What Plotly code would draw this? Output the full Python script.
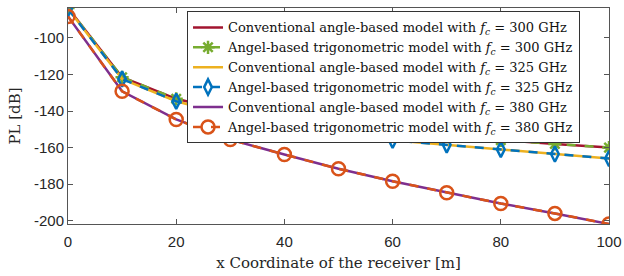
import plotly.graph_objects as go

x_vals = [0, 10, 20, 30, 40, 50, 60, 70, 80, 90, 100]
pl_300 = [-83.6, -121.5, -133.3, -140.5, -146.0, -149.0, -151.5, -153.8, -156.0, -158.0, -160.0]
pl_325 = [-84.0, -122.5, -134.6, -142.5, -149.0, -152.0, -156.0, -158.5, -161.0, -163.5, -166.0]
pl_380 = [-88.2, -129.2, -144.6, -155.6, -163.8, -171.6, -178.4, -184.7, -190.6, -196.0, -201.8]

y_ticks = [-200, -180, -160, -140, -120, -100]
x_ticks = [0, 20, 40, 60, 80, 100]

fc = "<i>f</i><sub><i>c</i></sub>"
names = [
    f"Conventional angle-based model with {fc} = 300 GHz",
    f"Angel-based trigonometric model with {fc} = 300 GHz",
    f"Conventional angle-based model with {fc} = 325 GHz",
    f"Angel-based trigonometric model with {fc} = 325 GHz",
    f"Conventional angle-based model with {fc} = 380 GHz",
    f"Angel-based trigonometric model with {fc} = 380 GHz",
]

fig = go.Figure()
fig.add_trace(go.Scatter(x=x_vals, y=pl_300, mode="lines", name=names[0],
                         line=dict(color="#A2142F", width=2.5)))
fig.add_trace(go.Scatter(x=x_vals, y=pl_300, mode="lines+markers", name=names[1],
                         line=dict(color="#77AC30", width=2.5, dash="dash"),
                         marker=dict(symbol="asterisk-open", size=11,
                                     line=dict(color="#77AC30", width=2.5))))
fig.add_trace(go.Scatter(x=x_vals, y=pl_325, mode="lines", name=names[2],
                         line=dict(color="#EDB120", width=2.5)))
fig.add_trace(go.Scatter(x=x_vals, y=pl_325, mode="lines+markers", name=names[3],
                         line=dict(color="#0072BD", width=2.5, dash="dash"),
                         marker=dict(symbol="diamond-tall-open", size=11,
                                     line=dict(color="#0072BD", width=2.5))))
fig.add_trace(go.Scatter(x=x_vals, y=pl_380, mode="lines", name=names[4],
                         line=dict(color="#7E2F8E", width=2.5)))
fig.add_trace(go.Scatter(x=x_vals, y=pl_380, mode="lines+markers", name=names[5],
                         line=dict(color="#D95319", width=2.5, dash="dash"),
                         marker=dict(symbol="circle-open", size=13,
                                     line=dict(color="#D95319", width=2.5))))

axis_common = dict(showgrid=False, zeroline=False, showline=True, linecolor="#555555",
                   linewidth=1, mirror="ticks", ticks="inside", ticklen=5,
                   tickcolor="#555555", automargin=False,
                   tickfont=dict(family="Liberation Sans, Arial", size=15, color="#262626"))

serif = "DejaVu Serif, Liberation Serif, serif"

fig.update_layout(
    width=624, height=276,
    margin=dict(l=68, r=15, t=8, b=52),
    paper_bgcolor="white", plot_bgcolor="white",
    showlegend=True,
    legend=dict(x=0.22, y=0.984, xanchor="left", yanchor="top",
                bgcolor="white", bordercolor="#333333", borderwidth=1,
                font=dict(family=serif, size=13, color="#111111"),
                tracegroupgap=0, itemwidth=30),
    xaxis=dict(range=[0, 100], tickvals=x_ticks, ticktext=[str(v) for v in x_ticks],
               ticklabelstandoff=4,
               title=dict(text="x Coordinate of the receiver [m]", standoff=8,
                          font=dict(family=serif, size=15, color="#262626")),
               **axis_common),
    yaxis=dict(range=[-201.8, -83.6], tickvals=y_ticks, ticktext=[str(v) for v in y_ticks],
               title=dict(text="PL [dB]", standoff=9,
                          font=dict(family=serif, size=15, color="#262626")),
               **axis_common),
)

fig.write_html("out.html", config={"displayModeBar": False},
               post_script="document.body.style.margin='0px';document.body.style.overflow='hidden';")
